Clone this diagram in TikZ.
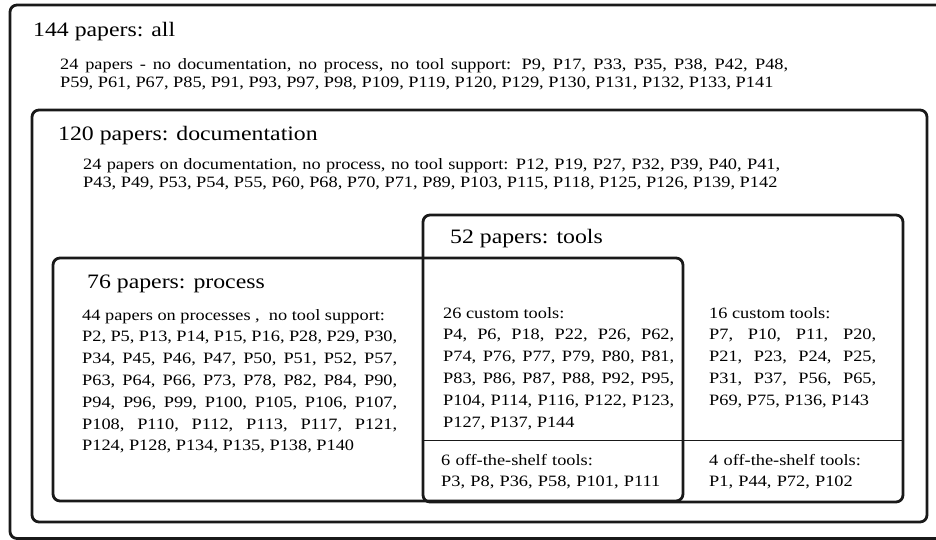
\documentclass[tikz,border=0pt]{standalone}
\usepackage{fontspec}
\setmainfont{Liberation Serif}[FakeStretch=1.16]
\newcommand{\listloose}{\tolerance=9999 \hyphenpenalty=10000 }
\begin{document}
\begin{tikzpicture}[x=1pt,y=-1pt,line join=round,line cap=round,
	frame/.style={draw=black!90,line width=2.8pt,rounded corners=7pt},
	boxtitle/.style={anchor=base west,inner sep=0,font=\fontsize{20.5}{24}\selectfont},
	bodytext/.style={anchor=base west,inner sep=0,align=justify,font=\fontsize{15.8}{18}\selectfont\listloose},
	shelftext/.style={anchor=base west,inner sep=0,align=left,text width=220pt,font=\fontsize{15.8}{21.8}\selectfont},
	listtext/.style={anchor=base west,inner sep=0,align=justify,font=\fontsize{15.8}{21.8}\selectfont\listloose}]
	\useasboundingbox (0,0) rectangle (936,540);
	\clip (0,0) rectangle (936,540);
	%Khung
	\draw[frame] (10,5) rectangle (950,538.5);%all
	\draw[frame] (32,110) rectangle (927,522);%documentation
	\draw[frame] (423,215) rectangle (903,502);%tools
	\draw[frame] (53,258) rectangle (683,501);%process
	\draw[draw=black!90,line width=1pt] (423,440)--(903,440);
	%Cấp 0
	\path (33,37)node[boxtitle](all){144 papers: all}
		(60,70)node[bodytext,text width=728pt](allnone){24 papers - no documentation, no process, no tool support: P9, P17, P33, P35, P38, P42, P48,\linebreak P59, P61, P67, P85, P91, P93, P97, P98, P109, P119, P120, P129, P130, P131, P132, P133, P141}
		;
	%Cấp 1
	\path (58,141)node[boxtitle](doc){120 papers: documentation}
		(83,170)node[bodytext,text width=697pt](docnone){24 papers on documentation, no process, no tool support: P12, P19, P27, P32, P39, P40, P41,\linebreak P43, P49, P53, P54, P55, P60, P68, P70, P71, P89, P103, P115, P118, P125, P126, P139, P142}
		;
	%Cấp 2
	\path (87,288)node[boxtitle](proc){76 papers: process}
		(82,320)node[listtext,text width=315pt](procnone){44 papers on processes ,~~no tool support:\\P2, P5, P13, P14, P15, P16, P28, P29, P30,\linebreak P34, P45, P46, P47, P50, P51, P52, P57,\linebreak P63, P64, P66, P73, P78, P82, P84, P90,\linebreak P94, P96, P99, P100, P105, P106, P107,\linebreak P108, P110, P112, P113, P117, P121,\linebreak P124, P128, P134, P135, P138, P140}
		;
	\path (450,243)node[boxtitle](tool){52 papers: tools}
		(443,318)node[listtext,text width=231pt](proccustom){26 custom tools:\\P4, P6, P18, P22, P26, P62,\linebreak P74, P76, P77, P79, P80, P81,\linebreak P83, P86, P87, P88, P92, P95,\linebreak P104, P114, P116, P122, P123,\linebreak P127, P137, P144}
		(709,318)node[listtext,text width=167pt](doccustom){16 custom tools:\\P7, P10, P11, P20,\linebreak P21, P23, P24, P25,\linebreak P31, P37, P56, P65,\linebreak P69, P75, P136, P143}
		;
	%Cấp 3
	\path (441,465)node[shelftext](procshelf){6 off-the-shelf tools:\\P3, P8, P36, P58, P101, P111}
		(709,465)node[shelftext,text width=180pt](docshelf){4 off-the-shelf tools:\\P1, P44, P72, P102}
		;
\end{tikzpicture}
\end{document}
